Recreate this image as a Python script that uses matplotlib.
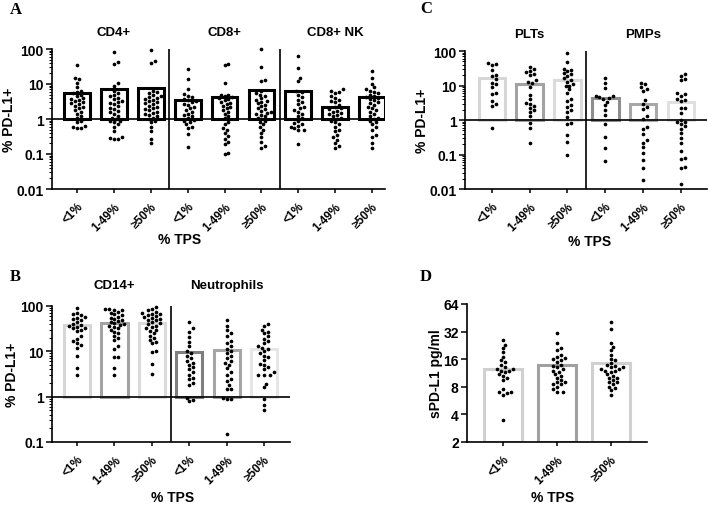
import numpy as np
import matplotlib
matplotlib.use('Agg')
import matplotlib.pyplot as plt
from matplotlib.ticker import FixedLocator, FixedFormatter, LogLocator, NullFormatter, NullLocator

plt.rcParams['font.family'] = ['Liberation Sans', 'DejaVu Sans']
plt.rcParams['font.weight'] = 'bold'
plt.rcParams['axes.labelweight'] = 'bold'
plt.rcParams['font.size'] = 8

TPS = ['<1%', '1-49%', '≥50%']

# ---------- A: CD4+ / CD8+ / CD8+ NK ----------
a_titles = ['CD4+', 'CD8+', 'CD8+ NK']
a_bars = [5.4, 7.2, 7.7, 3.5, 4.2, 6.7, 6.2, 2.2, 4.3]
cd4_lt1 = [36, 15, 14, 11, 8, 6.5, 6, 5.5, 5, 4.5, 4, 3.8, 3.5, 3.2, 3, 2.8, 2.6, 2.4, 2.2, 2, 1.8, 1.6,
           1.4, 1.2, 1.05, 0.9, 0.8, 0.65, 0.55, 0.55, 0.6]
cd4_mid = [80, 42, 37, 10.5, 8.5, 6.5, 5.5, 5, 4.6, 4, 3.7, 3.3, 3, 2.8, 2.6, 2.3, 2.1, 1.9, 1.7, 1.55, 1.4,
           1.25, 1.1, 1.0, 0.9, 0.85, 0.8, 0.7, 0.6, 0.45, 0.3, 0.27, 0.26, 0.28]
cd4_hi = [95, 45, 41, 6.5, 6, 5.5, 5, 4.5, 4.2, 4, 3.8, 3.5, 3.2, 3, 2.8, 2.6, 2.4, 2.2, 2, 1.9, 1.8, 1.6,
          1.5, 1.4, 1.3, 1.2, 1.1, 1.0, 0.85, 0.8, 0.6, 0.45, 0.27, 0.2]
cd8_lt1 = [27, 14, 7, 5.2, 4.6, 4.2, 3.8, 3.5, 3.2, 3, 2.7, 2.5, 2.2, 2, 1.8, 1.6, 1.4, 1.3, 1.2, 1.05, 0.95,
           0.9, 0.8, 0.7, 0.6, 0.55, 0.37, 0.16]
cd8_mid = [38, 34, 10.5, 5, 4.8, 4.5, 4.2, 4, 3.7, 3.4, 3.1, 2.9, 2.6, 2.4, 2.2, 2, 1.8, 1.6, 1.4, 1.2, 1.05,
           0.8, 0.7, 0.55, 0.5, 0.4, 0.33, 0.27, 0.22, 0.19, 0.11, 0.1]
cd8_hi = [97, 31, 13, 12, 6.5, 5.5, 5, 4.5, 4, 3.6, 3.2, 3, 2.8, 2.5, 2.3, 2.1, 1.9, 1.7, 1.6, 1.5, 1.4, 1.3,
          1.2, 1.1, 1.0, 0.9, 0.8, 0.7, 0.6, 0.5, 0.4, 0.3, 0.22, 0.17, 0.15]
nk_lt1 = [62, 29, 15, 12, 6.4, 6, 5, 4.2, 3.6, 3, 2.6, 2.2, 2, 1.8, 1.6, 1.4, 1.2, 1.05, 0.9, 0.75, 0.7, 0.65,
          0.6, 0.55, 0.5, 0.5, 0.19]
nk_mid = [7, 6.5, 6, 5.5, 4.5, 4, 3.5, 3.2, 3, 2.5, 2.2, 2, 1.9, 1.7, 1.6, 1.5, 1.4, 1.3, 1.2, 1.1, 1.0, 0.9,
          0.8, 0.7, 0.6, 0.5, 0.45, 0.35, 0.3, 0.25, 0.2, 0.17, 0.15]
nk_hi = [24, 15, 10, 8, 7, 6.5, 6, 5.5, 5, 4.5, 4.2, 4, 3.7, 3.4, 3, 2.8, 2.5, 2.2, 2, 1.8, 1.6, 1.4, 1.2, 1.1,
         1.0, 0.9, 0.8, 0.7, 0.6, 0.5, 0.35, 0.3, 0.2, 0.15]
a_dots = [cd4_lt1, cd4_mid, cd4_hi, cd8_lt1, cd8_mid, cd8_hi, nk_lt1, nk_mid, nk_hi]

# ---------- C: PLTs / PMPs ----------
c_titles = ['PLTs', 'PMPs']
c_bars = [17, 11, 14, 4.4, 2.9, 3.3]
c_edges = ['#d6d6d6', '#a3a3a3', '#dadada', '#8e8e8e', '#a8a8a8', '#e0e0e0']
plt_lt1 = [45, 42, 40, 28, 20, 19, 15, 12, 11, 9, 6, 5.5, 3.5, 3, 2.6, 0.6]
plt_mid = [35, 30, 26, 24, 22, 20, 14, 13, 11.5, 9, 5.3, 4, 3.2, 3, 2.5, 2.3, 1.9, 1.7, 1.3, 0.8, 0.6, 0.22]
plt_hi = [85, 48, 30, 28, 26, 23, 21, 19, 16, 14, 13, 11, 10, 9.5, 7.7, 6, 4, 3.5, 2.7, 2.4, 1.9, 1.7, 1.25,
          0.8, 0.75, 0.37, 0.23, 0.1]
pmp_lt1 = [17, 12, 8.5, 5, 4.8, 4.5, 4.3, 4, 3.4, 2.7, 2, 1.4, 0.75, 0.32, 0.15, 0.065]
pmp_mid = [12, 11, 9, 7.7, 7, 3.8, 3, 2.4, 2.1, 1.3, 1.1, 0.64, 0.54, 0.38, 0.26, 0.21, 0.16, 0.11, 0.07,
           0.04, 0.018]
pmp_hi = [21, 19, 15, 14, 6.2, 5.5, 5, 4, 3.8, 3.5, 2.3, 2.2, 1.6, 1.0, 0.9, 0.85, 0.77, 0.67, 0.55, 0.41,
          0.3, 0.21, 0.13, 0.08, 0.075, 0.042, 0.04, 0.014]
c_dots = [plt_lt1, plt_mid, plt_hi, pmp_lt1, pmp_mid, pmp_hi]

# ---------- B: CD14+ / Neutrophils ----------
b_titles = ['CD14+', 'Neutrophils']
b_bars = [38, 42, 42, 9.8, 10.7, 11.5]
b_edges = ['#d6d6d6', '#a3a3a3', '#dadada', '#7f7f7f', '#a6a6a6', '#e6e6e6']
mono_lt1 = [90, 70, 65, 62, 58, 55, 52, 50, 45, 40, 38, 36, 35, 33, 32, 30, 28, 22, 19, 17, 15, 14, 12, 8,
            4.2, 3]
mono_mid = [88, 85, 82, 80, 75, 70, 66, 62, 58, 55, 52, 50, 47, 44, 42, 40, 38, 36, 34, 32, 30, 27, 25, 22,
            20, 18, 13, 11.5, 7.5, 7.5, 4.2, 3]
mono_hi = [97, 85, 80, 75, 70, 68, 65, 62, 60, 58, 55, 52, 50, 48, 45, 42, 40, 37, 35, 32, 30, 28, 25, 22,
           20, 18, 16, 15, 10, 9.5, 5.3, 3.2]
neu_lt1 = [44, 32, 27, 21, 16, 13, 10, 9, 8, 7, 6, 5.5, 5, 4.5, 4, 3.5, 3, 2.6, 2.4, 2, 1.8, 0.95, 0.85, 0.8]
neu_mid = [50, 37, 30, 26, 22, 17, 15, 13, 11, 10, 9, 8, 7, 6, 5.5, 5, 4.2, 3.5, 3, 2.5, 2.2, 1.8, 1.5, 1.5,
           0.92, 0.9, 0.88, 0.15]
neu_hi = [40, 36, 30, 27, 25, 22, 19, 17, 15, 13, 12, 11, 10, 9, 8, 7.5, 6.5, 5.3, 5, 4.5, 4, 3.5, 3, 3, 3,
          1.9, 1.6, 0.88, 0.65, 0.52]
b_dots = [mono_lt1, mono_mid, mono_hi, neu_lt1, neu_mid, neu_hi]

# ---------- D: sPD-L1 ----------
d_bars = [12.5, 13.7, 14.5]
d_edges = ['#d0d0d0', '#a0a0a0', '#d0d0d0']
spd_lt1 = [26, 23, 21, 19, 17, 15.5, 15, 14, 13, 12.5, 12.5, 12, 12, 11.5, 11, 10.5, 10, 9.5, 7.5, 7, 7,
           6.8, 6.5, 3.5]
spd_mid = [31, 24, 21, 20, 18, 17, 16.5, 16, 15.5, 15, 14, 13.5, 13, 12.5, 12, 11.5, 11, 10.5, 10, 9.5, 9,
           9, 8.5, 8.5, 8, 7.5, 7, 7]
spd_hi = [41, 34, 24, 22, 20, 18, 16, 15.5, 14.5, 14, 13.5, 13, 13, 12.5, 12.5, 12, 12, 11.5, 11, 10.5, 10,
          10, 9.5, 9, 9, 8.5, 8, 7.8, 7.3, 6.5]
d_dots = [spd_lt1, spd_mid, spd_hi]

W, H = 708, 510
fig = plt.figure(figsize=(W / 100, H / 100), dpi=100)


def rect(l, r, t, b):
    return [l / W, 1 - b / H, (r - l) / W, (b - t) / H]


def swarm(ax, xc, vals, d=3.9):
    # simple greedy beeswarm in pixel space
    pts = ax.transData.transform([(xc, v) for v in vals])
    order = np.argsort(pts[:, 1])
    placed = []
    out = np.zeros_like(pts)
    for i in order:
        px, py = pts[i]
        for k in range(0, 40):
            off = (k + 1) // 2 * d * (1 if k % 2 else -1) * 0.5 if k else 0
            ok = all((qx - (px + off)) ** 2 + (qy - py) ** 2 >= d * d for qx, qy in placed)
            if ok:
                break
        placed.append((px + off, py))
        out[i] = (px + off, py)
    data = ax.transData.inverted().transform(out)
    ax.scatter(data[:, 0], data[:, 1], s=7, color='black', zorder=5, linewidths=0, clip_on=False)


def setup(ax, n, xlim, ylim, yticks, ylabels, base=10, minor=True):
    ax.set_yscale('log', base=base)
    ax.set_xlim(*xlim)
    ax.set_ylim(*ylim)
    ax.yaxis.set_major_locator(FixedLocator(yticks))
    ax.yaxis.set_major_formatter(FixedFormatter(ylabels))
    if minor:
        ax.yaxis.set_minor_locator(LogLocator(base=10, subs=np.arange(2, 10)))
    else:
        ax.yaxis.set_minor_locator(NullLocator())
    ax.yaxis.set_minor_formatter(NullFormatter())
    ax.set_xticks(range(n))
    ax.set_xticklabels(TPS * (n // 3), rotation=45, ha='right', rotation_mode='anchor')
    for s in ['top', 'right']:
        ax.spines[s].set_visible(False)
    for s in ['left', 'bottom']:
        ax.spines[s].set_linewidth(1.2)
    ax.tick_params(axis='y', which='major', length=4, width=1.1, labelsize=10, pad=2)
    ax.tick_params(axis='y', which='minor', length=2, width=0.7)
    ax.tick_params(axis='x', length=3, width=1.1, labelsize=8.5, pad=5)
    for lab in ax.get_xticklabels() + ax.get_yticklabels():
        lab.set_fontweight('bold')
    ax.set_facecolor('none')


def group_panel(ax, bars, edges, dots, seps, base_val):
    x = np.arange(len(bars))
    for xi, b, ec in zip(x, bars, edges):
        ax.bar(xi, b - base_val, bottom=base_val, width=0.7, facecolor='white', edgecolor=ec,
               linewidth=2.2, zorder=2)
    for xi, vals in zip(x, dots):
        swarm(ax, xi, vals)
    for s in seps:
        ax.axvline(s, color='black', lw=1.2, zorder=3)


# A
axA = fig.add_axes(rect(52, 385, 50, 190))
setup(axA, 9, (-0.68, 8.35), (0.01, 100), [0.01, 0.1, 1, 10, 100], ['0.01', '0.1', '1', '10', '100'])
axA.axhline(1, color='black', lw=1.2, zorder=3)
group_panel(axA, a_bars, ['black'] * 9, a_dots, [2.5, 5.5], 1)
for xi, t in zip([1, 4, 7], a_titles):
    axA.text(xi, 1.08, t, transform=axA.get_xaxis_transform(), ha='center', va='bottom', fontsize=9.5)
axA.set_ylabel('% PD-L1+', fontsize=10, labelpad=0)

# C
axC = fig.add_axes(rect(465, 707, 52, 190))
setup(axC, 6, (-0.71, 5.69), (0.01, 100), [0.01, 0.1, 1, 10, 100], ['0.01', '0.1', '1', '10', '100'])
axC.axhline(1, color='black', lw=1.2, zorder=3)
group_panel(axC, c_bars, c_edges, c_dots, [2.5], 1)
for xi, t in zip([1, 4], c_titles):
    axC.text(xi, 1.08, t, transform=axC.get_xaxis_transform(), ha='center', va='bottom', fontsize=9.5)
axC.set_ylabel('% PD-L1+', fontsize=10, labelpad=0)

# B
axB = fig.add_axes(rect(52, 290, 307, 443))
setup(axB, 6, (-0.67, 5.69), (0.1, 100), [0.1, 1, 10, 100], ['0.1', '1', '10', '100'])
axB.axhline(1, color='black', lw=1.2, zorder=3)
group_panel(axB, b_bars, b_edges, b_dots, [2.5], 1)
for xi, t in zip([1, 4], b_titles):
    axB.text(xi, 1.11, t, transform=axB.get_xaxis_transform(), ha='center', va='bottom', fontsize=9.5)
axB.set_ylabel('% PD-L1+', fontsize=10, labelpad=1)

# D
axD = fig.add_axes(rect(467, 647, 305, 443))
setup(axD, 3, (-0.67, 2.67), (2, 64), [2, 4, 8, 16, 32, 64], ['2', '4', '8', '16', '32', '64'],
      base=2, minor=False)
group_panel(axD, d_bars, d_edges, d_dots, [], 2)
axD.set_ylabel('sPD-L1 pg/ml', fontsize=10, labelpad=0)

# x labels and panel letters
for px, py in [(180, 240), (590, 242), (173, 498), (553, 498)]:
    fig.text(px / W, 1 - py / H, '% TPS', ha='center', va='center', fontsize=10)
for px, py, t in [(10, 10, 'A'), (420, 9, 'C'), (10, 277, 'B'), (420, 277, 'D')]:
    fig.text(px / W, 1 - py / H, t, ha='left', va='center', fontsize=12,
             family=['Liberation Serif', 'DejaVu Serif'], fontweight='bold')

fig.savefig('out.png', dpi=100)
